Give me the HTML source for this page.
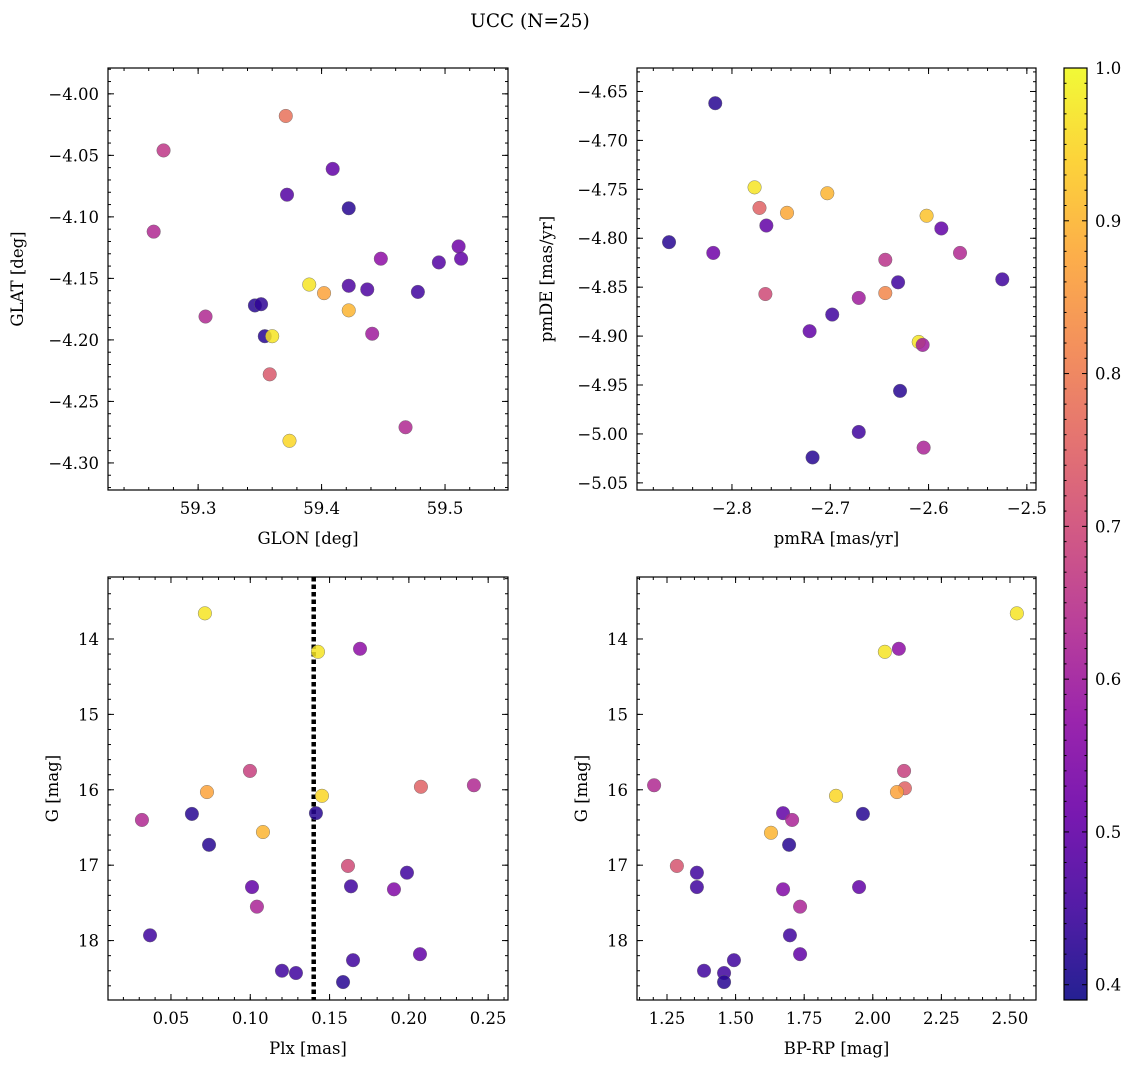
<!DOCTYPE html>
<html><head><meta charset="utf-8"><style>
html,body{margin:0;padding:0;background:#fff;}
svg text{font-family:"DejaVu Serif","Liberation Serif",serif;fill:#000;}
</style></head><body>
<svg id="fig" width="1136" height="1067" viewBox="0 0 1136 1067" xmlns="http://www.w3.org/2000/svg">
<text x="530" y="27" font-size="18.5" text-anchor="middle">UCC (N=25)</text>
</svg>
<script>
// Panel 1: GLON vs GLAT
const glon = [59.371,59.272,59.409,59.372,59.422,59.264,59.511,59.448,59.513,59.495,59.390,59.422,59.437,59.402,59.478,59.422,59.306,59.346,59.351,59.354,59.360,59.441,59.358,59.374,59.468];
const glat = [-4.018,-4.046,-4.061,-4.082,-4.093,-4.112,-4.124,-4.134,-4.134,-4.137,-4.155,-4.156,-4.159,-4.162,-4.161,-4.176,-4.181,-4.172,-4.171,-4.197,-4.197,-4.195,-4.228,-4.282,-4.271];
const prob1 = [0.78,0.66,0.50,0.48,0.42,0.63,0.52,0.57,0.50,0.48,0.97,0.47,0.47,0.87,0.45,0.90,0.63,0.42,0.43,0.42,0.97,0.60,0.73,0.95,0.63];
// Panel 2: pmRA vs pmDE
const pmra = [-2.817,-2.864,-2.819,-2.777,-2.765,-2.772,-2.744,-2.703,-2.602,-2.587,-2.568,-2.766,-2.644,-2.631,-2.525,-2.671,-2.644,-2.721,-2.698,-2.610,-2.606,-2.629,-2.671,-2.718,-2.605];
const pmde = [-4.662,-4.804,-4.815,-4.748,-4.787,-4.769,-4.774,-4.754,-4.777,-4.790,-4.815,-4.857,-4.822,-4.845,-4.842,-4.861,-4.856,-4.895,-4.878,-4.906,-4.909,-4.956,-4.998,-5.024,-5.014];
const prob2 = [0.42,0.42,0.52,0.97,0.50,0.75,0.88,0.90,0.92,0.50,0.63,0.70,0.65,0.45,0.45,0.60,0.82,0.50,0.45,0.97,0.60,0.42,0.45,0.42,0.62];
// Panel 3: Plx vs G
const plx = [0.0714,0.1427,0.1692,0.0998,0.0727,0.1452,0.2076,0.2410,0.0317,0.0632,0.1080,0.1414,0.0740,0.1616,0.1988,0.1011,0.1635,0.1906,0.1042,0.0368,0.2070,0.1648,0.1200,0.1288,0.1585];
const gmag3 = [13.66,14.17,14.13,15.75,16.03,16.08,15.96,15.94,16.40,16.32,16.56,16.31,16.73,17.01,17.10,17.29,17.28,17.32,17.55,17.93,18.18,18.26,18.40,18.43,18.55];
const prob3 = [0.97,0.97,0.57,0.68,0.87,0.95,0.75,0.63,0.63,0.42,0.90,0.42,0.42,0.70,0.45,0.50,0.45,0.55,0.62,0.45,0.50,0.45,0.45,0.45,0.42];
const plxLine = [0.14];
// Panel 4: BP-RP vs G
const bprp = [2.525,2.044,2.095,1.203,2.114,2.117,2.088,1.866,1.286,1.629,1.673,1.706,1.964,1.695,1.359,1.359,1.673,1.950,1.735,1.698,1.735,1.494,1.385,1.458,1.458];
const gmag4 = [13.66,14.17,14.13,15.94,15.75,15.98,16.03,16.08,17.01,16.57,16.31,16.40,16.32,16.73,17.10,17.29,17.32,17.29,17.55,17.93,18.18,18.26,18.40,18.43,18.55];
const prob4 = [0.97,0.97,0.57,0.63,0.68,0.75,0.87,0.95,0.72,0.90,0.50,0.62,0.42,0.42,0.45,0.45,0.55,0.50,0.62,0.45,0.50,0.45,0.45,0.45,0.42];
// tick labels
const ticks1x = ["59.3","59.4","59.5"];
const ticks1y = ["-4.00","-4.05","-4.10","-4.15","-4.20","-4.25","-4.30"];
const ticks2x = ["-2.8","-2.7","-2.6","-2.5"];
const ticks2y = ["-4.65","-4.70","-4.75","-4.80","-4.85","-4.90","-4.95","-5.00","-5.05"];
const ticks3x = ["0.05","0.10","0.15","0.20","0.25"];
const ticksGy = ["14","15","16","17","18"];
const ticks4x = ["1.25","1.50","1.75","2.00","2.25","2.50"];
const ticksCb = ["0.4","0.5","0.6","0.7","0.8","0.9","1.0"];

const NS="http://www.w3.org/2000/svg";
const svg=document.getElementById('fig');
function mk(tag,attrs,parent){const e=document.createElementNS(NS,tag);for(const k in attrs)e.setAttribute(k,attrs[k]);(parent||svg).appendChild(e);return e;}
const VMIN=0.39, VMAX=1.0;
const plasma=["#0d0887","#41049d","#6a00a8","#8f0da4","#b12a90","#cc4778","#e16462","#f2844b","#fca636","#fcce25","#f0f921"];
function hex(h){return [parseInt(h.substr(1,2),16),parseInt(h.substr(3,2),16),parseInt(h.substr(5,2),16)];}
function cmap(p){let t=(p-VMIN)/(VMAX-VMIN);t=Math.max(0,Math.min(1,t));const f=t*10,i=Math.min(9,Math.floor(f)),r=f-i;const a=hex(plasma[i]),b=hex(plasma[i+1]);return 'rgb('+a.map((v,k)=>Math.round(v+(b[k]-v)*r)).join(',')+')';}
function fmt(s){return s.replace('-','\u2212');}
const TFS=16.5, LFS=16.5;

function panel(o){
  const g=mk('g',{});
  
  
  const sx=v=>o.x0+(v-o.xmin)/(o.xmax-o.xmin)*(o.x1-o.x0);
  const sy=v=>o.y0+(v-o.ymin)/(o.ymax-o.ymin)*(o.y1-o.y0);
  const tg=mk('g',{stroke:'#000','stroke-width':1},g);
  
  
  const xa=Math.min(o.xmin,o.xmax),xb=Math.max(o.xmin,o.xmax);
  for(let k=Math.ceil(xa/o.xminor-1e-6);k*o.xminor<=xb+1e-9;k++){const px=sx(k*o.xminor);mk('line',{x1:px,x2:px,y1:o.y1,y2:o.y1-3},tg);mk('line',{x1:px,x2:px,y1:o.y0,y2:o.y0+3},tg);}
  const ya=Math.min(o.ymin,o.ymax),yb=Math.max(o.ymin,o.ymax);
  for(let k=Math.ceil(ya/o.yminor-1e-6);k*o.yminor<=yb+1e-9;k++){const py=sy(k*o.yminor);mk('line',{x1:o.x0,x2:o.x0+3,y1:py,y2:py},tg);mk('line',{x1:o.x1,x2:o.x1-3,y1:py,y2:py},tg);}
  o.xt.forEach(s=>{const px=sx(parseFloat(s));mk('line',{x1:px,x2:px,y1:o.y1,y2:o.y1-6},tg);mk('line',{x1:px,x2:px,y1:o.y0,y2:o.y0+6},tg);
    const t=mk('text',{x:px,y:o.y1+24,'font-size':TFS,'text-anchor':'middle'},g);t.textContent=fmt(s);});
  o.yt.forEach(s=>{const py=sy(parseFloat(s));mk('line',{x1:o.x0,x2:o.x0+6,y1:py,y2:py},tg);mk('line',{x1:o.x1,x2:o.x1-6,y1:py,y2:py},tg);
    const t=mk('text',{x:o.x0-9,y:py+6,'font-size':TFS,'text-anchor':'end'},g);t.textContent=fmt(s);});
  if(o.vline){o.vline.forEach(v=>{const l=mk('line',{x1:sx(v),x2:sx(v),y1:o.y0,y2:o.y1,stroke:'#000','stroke-width':4.5,'stroke-dasharray':'4.5,3'},g);});}
  for(let i=0;i<o.xs.length;i++){
    const c=mk('circle',{cx:sx(o.xs[i]),cy:sy(o.ys[i]),r:6.8,fill:cmap(o.ps[i]),'fill-opacity':0.85,stroke:'#666','stroke-width':0.4},g);
    
    
  }
  const f=mk('rect',{x:o.x0,y:o.y0,width:o.x1-o.x0,height:o.y1-o.y0,fill:'none',stroke:'#000','stroke-width':1.2},g);
  
  const xl=mk('text',{x:(o.x0+o.x1)/2,y:o.y1+54,'font-size':LFS,'text-anchor':'middle'},g);xl.textContent=o.xlabel;
  
  const yx=o.ylx,yy=(o.y0+o.y1)/2;
  const yl=mk('text',{x:yx,y:yy,'font-size':LFS,'text-anchor':'middle',transform:'rotate(-90 '+yx+' '+yy+')'},g);yl.textContent=o.ylabel;
  
}
panel({name:'glon-glat-panel',x0:108,x1:508,y0:68,y1:490,xmin:59.227,xmax:59.551,ymin:-3.979,ymax:-4.322,xminor:0.02,yminor:0.01,xt:ticks1x,yt:ticks1y,xs:glon,ys:glat,ps:prob1,xlabel:'GLON [deg]',ylabel:'GLAT [deg]',ylx:23});
panel({name:'pm-panel',x0:637,x1:1036,y0:68,y1:490,xmin:-2.8966,xmax:-2.4907,ymin:-4.626,ymax:-5.0573,xminor:0.02,yminor:0.01,xt:ticks2x,yt:ticks2y,xs:pmra,ys:pmde,ps:prob2,xlabel:'pmRA [mas/yr]',ylabel:'pmDE [mas/yr]',ylx:552});
panel({name:'plx-g-panel',x0:108,x1:508,y0:577,y1:1000,xmin:0.0103,xmax:0.2625,ymin:13.178,ymax:18.788,xminor:0.01,yminor:0.2,xt:ticks3x,yt:ticksGy,xs:plx,ys:gmag3,ps:prob3,xlabel:'Plx [mas]',ylabel:'G [mag]',ylx:58,vline:plxLine});
panel({name:'cmd-panel',x0:637,x1:1036,y0:577,y1:1000,xmin:1.1407,xmax:2.5948,ymin:13.178,ymax:18.788,xminor:0.05,yminor:0.2,xt:ticks4x,yt:ticksGy,xs:bprp,ys:gmag4,ps:prob4,xlabel:'BP-RP [mag]',ylabel:'G [mag]',ylx:587});

// colorbar
const cb=mk('g',{});
const defs=mk('defs',{},cb);const lg=mk('linearGradient',{id:'pl',x1:0,y1:1,x2:0,y2:0},defs);
plasma.forEach((c,i)=>mk('stop',{offset:(i/10),'stop-color':c},lg));
const cbx0=1064,cbx1=1087,cby0=68,cby1=1000;
mk('rect',{x:cbx0,y:cby0,width:cbx1-cbx0,height:cby1-cby0,fill:'url(#pl)','fill-opacity':0.9},cb);
const cy=v=>cby1-(v-VMIN)/(VMAX-VMIN)*(cby1-cby0);
for(let k=39;k<=100;k++){const py=cy(k/100);if(py<cby0)continue;mk('line',{x1:cbx1,x2:cbx1-(k%10===0?5:2.5),y1:py,y2:py,stroke:'#000','stroke-width':1},cb);mk('line',{x1:cbx0,x2:cbx0+(k%10===0?5:2.5),y1:py,y2:py,stroke:'#000','stroke-width':1},cb);}
ticksCb.forEach(s=>{const t=mk('text',{x:cbx1+8,y:cy(parseFloat(s))+6,'font-size':TFS},cb);t.textContent=s;});
mk('rect',{x:cbx0,y:cby0,width:cbx1-cbx0,height:cby1-cby0,fill:'none',stroke:'#000','stroke-width':1.2},cb);
</script>
</body></html>
